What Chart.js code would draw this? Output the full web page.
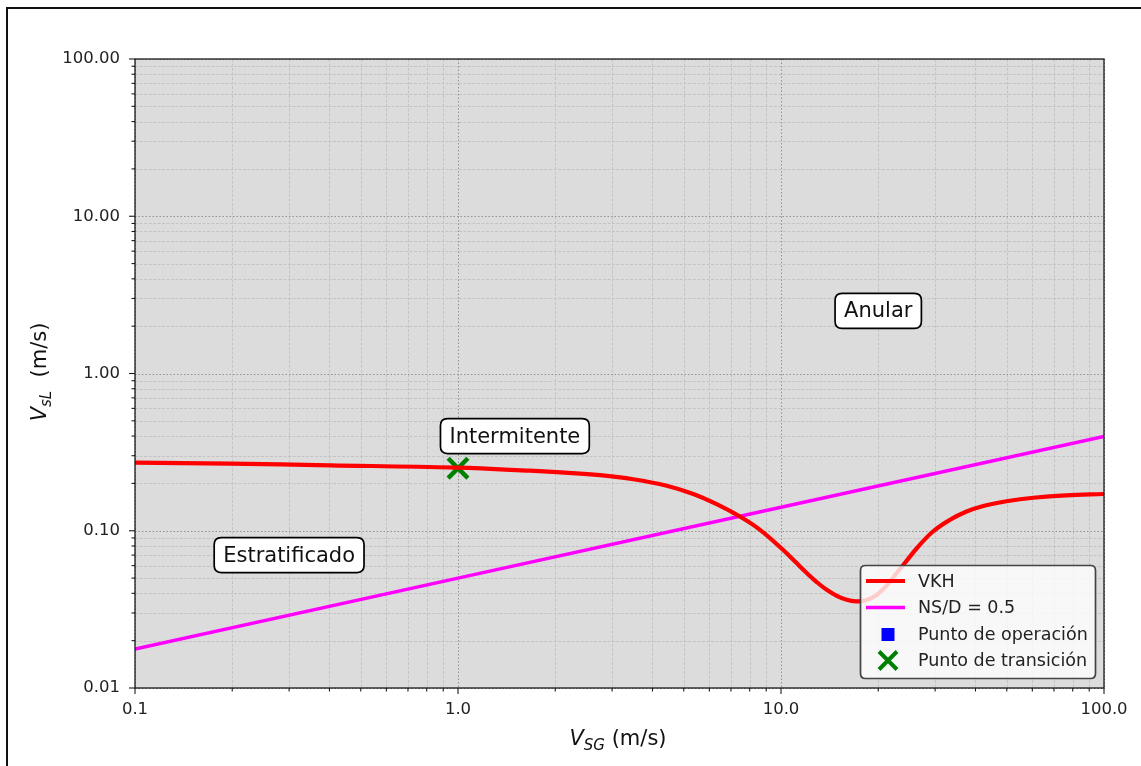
<!DOCTYPE html>
<html>
<head>
<meta charset="utf-8">
<script src="https://cdn.jsdelivr.net/npm/chart.js@4.4.1/dist/chart.umd.min.js"></script>
<style>
  html, body { margin: 0; padding: 0; background: #ffffff; overflow: hidden; }
  #wrap { position: relative; width: 1141px; height: 766px; }
  #frame { position: absolute; left: 6px; top: 7px; width: 2000px; height: 2000px;
           border-left: 2px solid #111; border-top: 2px solid #111; }
  canvas { position: absolute; left: 0; top: 0; }
</style>
</head>
<body>
<div id="wrap">
  <div id="frame"></div>
  <canvas id="c" width="1141" height="766"></canvas>
</div>
<script>
// ---- data ----
const vkhX = [0.1, 0.197, 0.402, 0.993, 1.671, 2.145, 2.752, 3.489, 4.427, 5.352, 6.322, 7.465, 8.61, 10.16, 11.05, 12.01, 12.90, 13.85, 14.88, 15.97, 17.07, 18.33, 19.68, 21.14, 22.70, 24.38, 26.37, 29.55, 33.37, 37.39, 42.29, 50.45, 60.4, 76.28, 100];
const vkhY = [0.2709, 0.2669, 0.2607, 0.2518, 0.2409, 0.2343, 0.2256, 0.2125, 0.1932, 0.1713, 0.1475, 0.1230, 0.1014, 0.0754, 0.0637, 0.0539, 0.0472, 0.0421, 0.0386, 0.0364, 0.0356, 0.0362, 0.0388, 0.0443, 0.0531, 0.0637, 0.0777, 0.0989, 0.1174, 0.1320, 0.1437, 0.1546, 0.1621, 0.1680, 0.1713];
const nsdX = [0.1, 1, 10, 100];
const nsdY = [0.0177, 0.05, 0.141, 0.398];
const opX = [];
const opY = [];
const transX = [1.0];
const transY = [0.25];
const seriesLabels = ['VKH', 'NS/D = 0.5', 'Punto de operación', 'Punto de transición'];
const xMajorTicks = [0.1, 1, 10, 100];
const yMajorTicks = [0.01, 0.1, 1, 10, 100];
const regionLabels = ['Estratificado', 'Intermitente', 'Anular'];
const regionX = [0.3, 1.5, 20];
const regionY = [0.07, 0.4, 2.5];

const pts = (xs, ys) => xs.map((x, i) => ({ x: x, y: ys[i] }));
const FONT = "'DejaVu Sans', 'Liberation Sans', sans-serif";

function minorValues(min, max) {
  const out = [];
  for (let e = Math.floor(Math.log10(min)); e < Math.ceil(Math.log10(max)); e++) {
    for (let k = 2; k <= 9; k++) {
      const v = k * Math.pow(10, e);
      if (v > min && v < max) out.push(v);
    }
  }
  return out;
}

const bgGridPlugin = {
  id: 'bgGrid',
  beforeDatasetsDraw(chart) {
    const { ctx, chartArea: a, scales } = chart;
    ctx.save();
    ctx.fillStyle = '#dcdcdc';
    ctx.fillRect(a.left, a.top, a.right - a.left, a.bottom - a.top);
    const xs = scales.x, ys = scales.y;
    ctx.strokeStyle = '#c4c4c4';
    ctx.lineWidth = 1;
    ctx.setLineDash([3, 1.5]);
    minorValues(0.1, 100).forEach(v => {
      const p = Math.round(xs.getPixelForValue(v)) + 0.5;
      ctx.beginPath(); ctx.moveTo(p, a.top); ctx.lineTo(p, a.bottom); ctx.stroke();
    });
    minorValues(0.01, 100).forEach(v => {
      const p = Math.round(ys.getPixelForValue(v)) + 0.5;
      ctx.beginPath(); ctx.moveTo(a.left, p); ctx.lineTo(a.right, p); ctx.stroke();
    });
    ctx.strokeStyle = '#929292';
    ctx.setLineDash([1.5, 2]);
    xMajorTicks.forEach(v => {
      const p = Math.round(xs.getPixelForValue(v)) + 0.5;
      ctx.beginPath(); ctx.moveTo(p, a.top); ctx.lineTo(p, a.bottom); ctx.stroke();
    });
    yMajorTicks.forEach(v => {
      const p = Math.round(ys.getPixelForValue(v)) + 0.5;
      ctx.beginPath(); ctx.moveTo(a.left, p); ctx.lineTo(a.right, p); ctx.stroke();
    });
    ctx.restore();
  }
};

function roundRect(ctx, x, y, w, h, r) {
  ctx.beginPath();
  ctx.moveTo(x + r, y);
  ctx.lineTo(x + w - r, y);
  ctx.quadraticCurveTo(x + w, y, x + w, y + r);
  ctx.lineTo(x + w, y + h - r);
  ctx.quadraticCurveTo(x + w, y + h, x + w - r, y + h);
  ctx.lineTo(x + r, y + h);
  ctx.quadraticCurveTo(x, y + h, x, y + h - r);
  ctx.lineTo(x, y + r);
  ctx.quadraticCurveTo(x, y, x + r, y);
  ctx.closePath();
}

const overlayPlugin = {
  id: 'overlay',
  afterDatasetsDraw(chart) {
    const { ctx, scales } = chart;
    ctx.save();
    ctx.font = '21px ' + FONT;
    ctx.textAlign = 'center';
    ctx.textBaseline = 'middle';
    regionLabels.forEach((t, i) => {
      const cx = scales.x.getPixelForValue(regionX[i]);
      const cy = scales.y.getPixelForValue(regionY[i]);
      const w = ctx.measureText(t).width + 18;
      const h = 35;
      roundRect(ctx, cx - w / 2, cy - h / 2, w, h, 7);
      ctx.fillStyle = '#ffffff';
      ctx.fill();
      ctx.lineWidth = 1.7;
      ctx.strokeStyle = '#000000';
      ctx.stroke();
      ctx.fillStyle = '#111111';
      ctx.fillText(t, cx, cy + 1);
    });

    const lx = 860.5, ly = 565.5, lw = 235, lh = 113;
    roundRect(ctx, lx, ly, lw, lh, 5);
    ctx.fillStyle = 'rgba(255,255,255,0.8)';
    ctx.fill();
    ctx.lineWidth = 1.7;
    ctx.strokeStyle = '#444444';
    ctx.stroke();
    const rows = [581, 607.5, 634.5, 660.5];
    ctx.font = '17.5px ' + FONT;
    ctx.textAlign = 'left';
    ctx.textBaseline = 'middle';
    chart.data.datasets.forEach((ds, i) => {
      const y = rows[i];
      ctx.save();
      if (ds.showLine) {
        ctx.strokeStyle = ds.borderColor;
        ctx.lineWidth = ds.borderWidth;
        ctx.beginPath(); ctx.moveTo(866, y); ctx.lineTo(905, y); ctx.stroke();
      } else if (ds.pointStyle === 'rect') {
        ctx.fillStyle = ds.backgroundColor;
        ctx.fillRect(881.5, y - 6.5, 13, 13);
      } else {
        ctx.strokeStyle = ds.borderColor;
        ctx.lineWidth = 4;
        ctx.beginPath();
        ctx.moveTo(879, y - 9); ctx.lineTo(897, y + 9);
        ctx.moveTo(897, y - 9); ctx.lineTo(879, y + 9);
        ctx.stroke();
      }
      ctx.restore();
      ctx.fillStyle = '#222222';
      ctx.fillText(ds.label, 918, y + 1);
    });
    ctx.restore();
  },
  afterDraw(chart) {
    const { ctx, chartArea: a, scales } = chart;
    ctx.save();
    ctx.strokeStyle = '#1a1a1a';
    ctx.lineWidth = 1.3;
    ctx.strokeRect(a.left, a.top, a.right - a.left, a.bottom - a.top);
    ctx.lineWidth = 1.1;
    const xt = (v, len) => {
      const p = scales.x.getPixelForValue(v);
      ctx.beginPath(); ctx.moveTo(p, a.bottom); ctx.lineTo(p, a.bottom + len); ctx.stroke();
    };
    const yt = (v, len) => {
      const p = scales.y.getPixelForValue(v);
      ctx.beginPath(); ctx.moveTo(a.left, p); ctx.lineTo(a.left - len, p); ctx.stroke();
    };
    xMajorTicks.forEach(v => xt(v, 6));
    minorValues(0.1, 100).forEach(v => xt(v, 3.5));
    yMajorTicks.forEach(v => yt(v, 6));
    minorValues(0.01, 100).forEach(v => yt(v, 3.5));

    ctx.fillStyle = '#111111';
    ctx.textBaseline = 'alphabetic';
    ctx.textAlign = 'left';
    const drawLabel = (main, sub, rest) => {
      ctx.font = 'italic 21px ' + FONT;
      const w1 = ctx.measureText(main).width;
      ctx.font = 'italic 15px ' + FONT;
      const w2 = ctx.measureText(sub).width;
      ctx.font = '21px ' + FONT;
      const w3 = ctx.measureText(rest).width;
      const total = w1 + w2 + w3;
      let x = -total / 2;
      ctx.font = 'italic 21px ' + FONT;
      ctx.fillText(main, x, 0); x += w1;
      ctx.font = 'italic 15px ' + FONT;
      ctx.fillText(sub, x, 4.5); x += w2;
      ctx.font = '21px ' + FONT;
      ctx.fillText(rest, x, 0);
    };
    ctx.save();
    ctx.translate(618, 745);
    drawLabel('V', 'SG', ' (m/s)');
    ctx.restore();
    ctx.save();
    ctx.translate(46, 372);
    ctx.rotate(-Math.PI / 2);
    drawLabel('V', 'sL', '  (m/s)');
    ctx.restore();
    ctx.restore();
  }
};

new Chart(document.getElementById('c'), {
  type: 'scatter',
  data: {
    datasets: [
      { label: seriesLabels[0], data: pts(vkhX, vkhY), showLine: true, borderColor: '#ff0000',
        backgroundColor: '#ff0000', borderWidth: 4.2, pointRadius: 0, tension: 0.4,
        borderCapStyle: 'round', borderJoinStyle: 'round' },
      { label: seriesLabels[1], data: pts(nsdX, nsdY), showLine: true, borderColor: '#ff00ff',
        backgroundColor: '#ff00ff', borderWidth: 3.5, pointRadius: 0 },
      { label: seriesLabels[2], data: pts(opX, opY), showLine: false, pointStyle: 'rect',
        backgroundColor: '#0000ff', borderColor: '#0000ff', pointRadius: 8 },
      { label: seriesLabels[3], data: pts(transX, transY), showLine: false, pointStyle: 'crossRot',
        borderColor: '#008000', backgroundColor: '#008000', pointRadius: 14, borderWidth: 4.5 }
    ]
  },
  options: {
    responsive: false,
    devicePixelRatio: 1,
    animation: false,
    layout: { padding: { left: 0, top: 59, right: 37, bottom: 0 } },
    plugins: { legend: { display: false }, tooltip: { enabled: false }, title: { display: false } },
    scales: {
      x: {
        type: 'logarithmic', position: 'bottom', min: 0.1, max: 100,
        grid: { display: false, drawTicks: false }, border: { display: false },
        afterBuildTicks: s => { s.ticks = xMajorTicks.map(v => ({ value: v })); },
        afterFit: s => { s.height = 78; },
        ticks: { autoSkip: false, maxRotation: 0, padding: 12, color: '#222222',
                 font: { family: FONT, size: 16.5 }, callback: v => Number(v).toFixed(1) }
      },
      y: {
        type: 'logarithmic', position: 'left', min: 0.01, max: 100,
        grid: { display: false, drawTicks: false }, border: { display: false },
        afterBuildTicks: s => { s.ticks = yMajorTicks.map(v => ({ value: v })); },
        afterFit: s => { s.width = 135; },
        ticks: { autoSkip: false, padding: 15, color: '#222222',
                 font: { family: FONT, size: 16.5 }, callback: v => Number(v).toFixed(2) }
      }
    }
  },
  plugins: [bgGridPlugin, overlayPlugin]
});
</script>
</body>
</html>
